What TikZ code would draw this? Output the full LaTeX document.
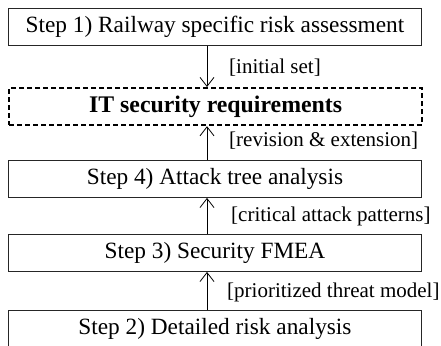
\documentclass[tikz,border=0pt]{standalone}
\usepackage{fontspec}
\setmainfont{Liberation Serif}
\usetikzlibrary{arrows.meta}
\begin{document}
\begin{tikzpicture}[x=1pt,y=-1pt,
  stepbox/.style={draw=black!85, line width=0.9pt, minimum width=413pt,
    minimum height=37pt, inner sep=0pt, anchor=north west,
    font=\fontsize{23.3}{26}\selectfont},
  reqbox/.style={stepbox, draw=black, line width=2.2pt,
    dash pattern=on 5pt off 3pt, font=\fontsize{23.8}{26}\selectfont\bfseries},
  flow/.style={line width=0.8pt, -{Straight Barb[length=9pt,width=14pt,line width=0.8pt]}},
  tag/.style={anchor=west, inner sep=0pt, font=\fontsize{21}{24}\selectfont}]
\useasboundingbox (0,0) rectangle (441,345);
\coordinate (ax) at (207,0);
\node[stepbox] (s1) at (8,8) {Step 1) Railway specific risk assessment};
\node[reqbox] (req) at (8,87) {IT security requirements};
\node[stepbox] (s4) at (8,160) {Step 4) Attack tree analysis};
\node[stepbox] (s3) at (8,234) {Step 3) Security FMEA};
\node[stepbox] (s2) at (8,310) {Step 2) Detailed risk analysis};

\draw[flow] (s1.south -| ax) -- (req.north -| ax);
\draw[flow] (s4.north -| ax) -- (req.south -| ax);
\draw[flow] (s3.north -| ax) -- (s4.south -| ax);
\draw[flow] (s2.north -| ax) -- (s3.south -| ax);

\node[tag] (t1) at (229,68) {[initial set]};
\node[tag] (t2) at (229,141) {[revision \& extension]};
\node[tag] (t3) at (231,216) {[critical attack patterns]};
\node[tag] (t4) at (227,292) {[prioritized threat model]};
\end{tikzpicture}
\end{document}
